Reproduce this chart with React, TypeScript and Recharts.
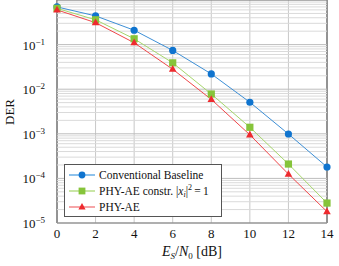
import React from 'react';
import { LineChart, Line, XAxis, YAxis, CartesianGrid, ReferenceLine, ReferenceArea } from 'recharts';

// Es/N0 in dB
const snr = [0, 2, 4, 6, 8, 10, 12, 14];
const baseline = [0.7, 0.44, 0.21, 0.074, 0.022, 0.0051, 0.00099, 0.00018];
const constrained = [0.65, 0.36, 0.135, 0.039, 0.0078, 0.0014, 0.00021, 0.000028];
const phyAe = [0.6, 0.31, 0.11, 0.028, 0.0059, 0.00095, 0.000125, 0.000018];

const xTicks = [0, 2, 4, 6, 8, 10, 12, 14];
const yTicks = [1e-5, 1e-4, 1e-3, 1e-2, 1e-1, 1];
const yExponents = ['−5', '−4', '−3', '−2', '−1', '0'];
const minorSteps = [2, 3, 4, 5, 6, 7, 8, 9];

const data = snr.map((s, i) => ({
  snr: s,
  baseline: baseline[i],
  constrained: constrained[i],
  phyAe: phyAe[i],
}));

// minor grid lines 2..9 in each decade
const minorGrid: number[] = [];
yTicks.slice(0, -1).forEach((d) => minorSteps.forEach((m) => minorGrid.push(d * m)));

const BLUE = '#0f74cf';
const GREEN = '#86c43a';
const RED = '#ee2a2e';
const FONT = '"Liberation Serif", "DejaVu Serif", serif';

const Circle = (props: any) => {
  const { cx, cy } = props;
  if (cx == null || cy == null) return null;
  return <circle cx={cx} cy={cy} r={3.6} fill={BLUE} />;
};

const Square = (props: any) => {
  const { cx, cy } = props;
  if (cx == null || cy == null) return null;
  return <rect x={cx - 3.6} y={cy - 3.6} width={7.2} height={7.2} fill={GREEN} />;
};

const Triangle = (props: any) => {
  const { cx, cy } = props;
  if (cx == null || cy == null) return null;
  return <polygon points={`${cx},${cy - 4.2} ${cx + 3.8},${cy + 2.6} ${cx - 3.8},${cy + 2.6}`} fill={RED} />;
};

const YTick = (props: any) => {
  const { x, y, payload } = props;
  const idx = yTicks.indexOf(payload.value);
  if (idx < 0 || payload.value === 1) return null;
  return (
    <text x={x - 4} y={y + 5} textAnchor="end" fontFamily={FONT} fontSize={13} fill="#111">
      10
      <tspan dy={-5} fontSize={9}>{yExponents[idx]}</tspan>
    </text>
  );
};

const XTick = (props: any) => {
  const { x, y, payload } = props;
  return (
    <text x={x} y={y + 9} textAnchor="middle" fontFamily={FONT} fontSize={13} fill="#111">
      {payload.value}
    </text>
  );
};

const legendItems = [
  { key: 'b', color: BLUE, line: '#8ec2ec', label: <>Conventional Baseline</> },
  {
    key: 'c',
    color: GREEN,
    line: '#c9e6a6',
    label: (
      <>
        PHY-AE constr. |<i>x</i>
        <sub style={{ fontSize: 8, fontStyle: 'italic', verticalAlign: -2 }}>i</sub>|
        <sup style={{ fontSize: 8, verticalAlign: 5 }}>2</sup>&thinsp;=&thinsp;1
      </>
    ),
  },
  { key: 'p', color: RED, line: '#f6a6a8', label: <>PHY-AE</> },
];

const LegendBox = () => (
  <div
    style={{
      position: 'absolute',
      left: 64,
      top: 164,
      border: '1px solid #555',
      background: '#fff',
      width: 158,
      height: 53,
      padding: '2px 0 0 0',
      fontFamily: FONT,
      fontSize: 11.5,
      color: '#111',
      boxSizing: 'border-box',
    }}
  >
    {legendItems.map((it, i) => (
      <div key={it.key} style={{ display: 'flex', alignItems: 'center', height: 16, lineHeight: '16px' }}>
        <svg width={34} height={12} style={{ flex: 'none' }}>
          <line x1={4} x2={30} y1={6} y2={6} stroke={it.line} strokeWidth={2} />
          {i === 0 && <circle cx={17} cy={6} r={3.4} fill={it.color} />}
          {i === 1 && <rect x={13.6} y={2.6} width={6.8} height={6.8} fill={it.color} />}
          {i === 2 && <polygon points="17,2 20.6,8.6 13.4,8.6" fill={it.color} />}
        </svg>
        <span style={{ whiteSpace: 'nowrap' }}>{it.label}</span>
      </div>
    ))}
  </div>
);

export default function App() {
  return (
    <div style={{ position: 'absolute', left: 0, top: 0, width: 339, height: 266, background: '#fff' }}>
      <LineChart width={339} height={266} data={data} margin={{ top: 0, right: 12, bottom: 16, left: 0 }}>
        <CartesianGrid stroke="#c8c8c8" strokeWidth={1} horizontal={false} />
        {minorGrid.map((v) => (
          <ReferenceLine key={`m-${v}`} y={v} stroke="#dadada" strokeWidth={1} ifOverflow="hidden" />
        ))}
        {yTicks.map((v) => (
          <ReferenceLine key={`M-${v}`} y={v} stroke="#bdbdbd" strokeWidth={1} />
        ))}
        <XAxis
          dataKey="snr"
          type="number"
          domain={[0, 14]}
          ticks={xTicks}
          axisLine={false}
          tickLine={false}
          tickMargin={0}
          tick={<XTick />}
          height={27}
        />
        <YAxis
          scale="log"
          domain={[1e-5, 1]}
          ticks={yTicks}
          axisLine={false}
          tickLine={false}
          tick={<YTick />}
          width={57}
          allowDataOverflow
        />
        <ReferenceArea x1={0} x2={14} y1={1e-5} y2={1} fill="none" stroke="#444" strokeWidth={1} />
        <Line dataKey="baseline" stroke="#3d8fd6" strokeWidth={1} dot={<Circle />} isAnimationActive={false} />
        <Line dataKey="constrained" stroke="#a6d66c" strokeWidth={1} dot={<Square />} isAnimationActive={false} />
        <Line dataKey="phyAe" stroke="#f0474a" strokeWidth={1} dot={<Triangle />} isAnimationActive={false} />
      </LineChart>
      <LegendBox />
      <svg width={339} height={266} style={{ position: 'absolute', left: 0, top: 0, pointerEvents: 'none' }}>
        <text x={192} y={256} textAnchor="middle" fontFamily={FONT} fontSize={14} fill="#111">
          <tspan fontStyle="italic">E</tspan>
          <tspan fontStyle="italic" fontSize={9} dy={3}>S</tspan>
          <tspan dy={-3}>/</tspan>
          <tspan fontStyle="italic">N</tspan>
          <tspan fontSize={9} dy={3}>0</tspan>
          <tspan dy={-3}> [dB]</tspan>
        </text>
        <text
          x={14}
          y={112}
          transform="rotate(-90 14 112)"
          textAnchor="middle"
          fontFamily={FONT}
          fontSize={13}
          fill="#111"
        >
          DER
        </text>
      </svg>
    </div>
  );
}
